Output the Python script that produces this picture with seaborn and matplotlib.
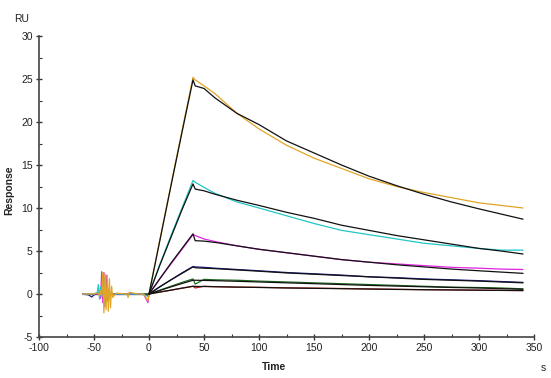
import numpy as np
import pandas as pd
import matplotlib
matplotlib.use("Agg")
import matplotlib.pyplot as plt
import seaborn as sns
from matplotlib.ticker import MultipleLocator

# time grids (s)
t_base = [-60, -55, -52, -50, -47, -46, -45, -44, -43, -42, -41, -40, -39, -38,
          -37, -36, -35, -34, -33, -30, -25, -20, -19, -18, -10, -5, -1]
t_assoc = [0, 10, 20, 30, 40]
t_diss = [42, 50, 60, 80, 100, 125, 150, 175, 200, 225, 250, 275, 300, 320, 340]

series = ["c1", "c2", "c3", "c4", "c5", "c6"]
colors = ["#E0A526", "#22C6C6", "#E024E0", "#1A1A8C", "#1E6B1E", "#C0201E"]

# measured responses (RU)
base_c1 = [0, 0, 0.05, 0, 0.1, 0, -0.2, 0.4, -0.3, 2.5, -2.2, 2.3, -1.8, 2.2,
           -2.0, 1.8, -1.6, 0.9, -0.4, 0.1, 0.05, 0, -0.4, 0.2, 0, 0, -0.8]
base_c2 = [0, 0, 0, 0, 0.2, 1.1, -0.6, 0.8, -0.3, 2.4, -1.2, 1.8, -0.8, 0.6,
           -0.3, 0.2, 0, 0, 0, 0, 0, 0, 0, 0, 0, 0, -0.3]
base_c3 = [0, 0, 0, 0, 0, 0, 0.3, -0.5, 2.6, -1.0, 2.5, -1.5, 2.2, -0.8,
           0.5, 0, 0, 0, 0, 0, 0, 0, 0, 0, 0, 0, -1.0]
base_c4 = [0, -0.1, -0.35, -0.1, 0, 0, 0.2, -0.3, 0.6, -0.5, 0.4, -0.2, 0.1, 0,
           0, 0, 0, 0, 0, 0, 0, 0, 0, 0, 0, 0, -0.2]
base_c5 = [0, 0, 0, 0, 0, 0, 0.1, -0.2, 0.3, -0.3, 0.2, -0.1, 0, 0,
           0, 0, 0, 0, 0, 0, 0, 0, 0, 0, 0, 0, 0]
base_c6 = [0, 0, 0, 0, 0, 0, 0.05, -0.1, 0.2, -0.2, 0.1, 0, 0, 0,
           0, 0, 0, 0, 0, 0, 0, 0, 0, 0, 0, 0, 0]

assoc_c1 = [0, 6.4, 12.7, 19.0, 25.2]
assoc_c2 = [0, 3.5, 6.8, 10.0, 13.2]
assoc_c3 = [0, 1.8, 3.5, 5.2, 6.9]
assoc_c4 = [0, 0.85, 1.65, 2.45, 3.2]
assoc_c5 = [0, 0.45, 0.9, 1.35, 1.75]
assoc_c6 = [0, 0.23, 0.45, 0.68, 0.9]

diss_c1 = [24.9, 24.2, 23.3, 21.0, 19.2, 17.3, 15.8, 14.6, 13.4, 12.5, 11.8, 11.2, 10.6, 10.3, 10.0]
diss_c2 = [13.0, 12.4, 11.7, 10.7, 10.0, 9.1, 8.2, 7.4, 6.9, 6.4, 5.9, 5.6, 5.3, 5.1, 5.1]
diss_c3 = [6.8, 6.4, 6.1, 5.6, 5.2, 4.8, 4.4, 4.0, 3.7, 3.5, 3.3, 3.1, 3.0, 2.9, 2.85]
diss_c4 = [3.15, 3.1, 3.0, 2.85, 2.7, 2.5, 2.35, 2.2, 2.0, 1.9, 1.75, 1.65, 1.55, 1.45, 1.35]
diss_c5 = [1.15, 1.7, 1.65, 1.6, 1.5, 1.4, 1.3, 1.2, 1.1, 1.0, 0.9, 0.8, 0.75, 0.7, 0.6]
diss_c6 = [0.7, 0.9, 0.85, 0.8, 0.78, 0.72, 0.68, 0.64, 0.6, 0.55, 0.5, 0.48, 0.45, 0.42, 0.4]

# 1:1 fitted curves (RU)
fit_assoc_c1 = [0, 6.3, 12.6, 18.8, 24.9]
fit_assoc_c2 = [0, 3.4, 6.6, 9.8, 12.8]
fit_assoc_c3 = [0, 1.8, 3.6, 5.3, 7.0]
fit_assoc_c4 = [0, 0.85, 1.65, 2.4, 3.15]
fit_assoc_c5 = [0, 0.42, 0.83, 1.22, 1.6]
fit_assoc_c6 = [0, 0.23, 0.45, 0.68, 0.9]

fit_diss_c1 = [24.2, 23.9, 22.8, 21.0, 19.7, 17.8, 16.4, 15.0, 13.7, 12.6, 11.6, 10.7, 9.9, 9.3, 8.7]
fit_diss_c2 = [12.2, 12.0, 11.6, 10.9, 10.3, 9.5, 8.8, 8.0, 7.4, 6.8, 6.3, 5.8, 5.3, 5.0, 4.65]
fit_diss_c3 = [6.2, 6.15, 6.0, 5.6, 5.2, 4.8, 4.4, 4.0, 3.7, 3.4, 3.15, 2.9, 2.7, 2.55, 2.4]
fit_diss_c4 = [3.05, 3.0, 2.95, 2.8, 2.65, 2.45, 2.3, 2.15, 2.0, 1.85, 1.7, 1.6, 1.5, 1.4, 1.3]
fit_diss_c5 = [1.6, 1.58, 1.55, 1.48, 1.4, 1.3, 1.2, 1.1, 1.0, 0.92, 0.84, 0.76, 0.7, 0.62, 0.55]
fit_diss_c6 = [0.88, 0.87, 0.85, 0.8, 0.76, 0.7, 0.66, 0.62, 0.57, 0.53, 0.5, 0.47, 0.44, 0.42, 0.4]

base = [base_c1, base_c2, base_c3, base_c4, base_c5, base_c6]
assoc = [assoc_c1, assoc_c2, assoc_c3, assoc_c4, assoc_c5, assoc_c6]
diss = [diss_c1, diss_c2, diss_c3, diss_c4, diss_c5, diss_c6]
fit_assoc = [fit_assoc_c1, fit_assoc_c2, fit_assoc_c3, fit_assoc_c4, fit_assoc_c5, fit_assoc_c6]
fit_diss = [fit_diss_c1, fit_diss_c2, fit_diss_c3, fit_diss_c4, fit_diss_c5, fit_diss_c6]

rows = []
fit_rows = []
t_all = t_base + t_assoc + t_diss
t_fit = t_assoc + t_diss
for i, name in enumerate(series):
    vals = base[i] + assoc[i] + diss[i]
    for t, v in zip(t_all, vals):
        rows.append({"time": t, "response": v, "conc": name})
    fvals = fit_assoc[i] + fit_diss[i]
    for t, v in zip(t_fit, fvals):
        fit_rows.append({"time": t, "response": v, "conc": name})
df = pd.DataFrame(rows)
df_fit = pd.DataFrame(fit_rows)

sns.set_style("ticks")
plt.rcParams["font.family"] = ["Liberation Sans", "DejaVu Sans"]
plt.rcParams["axes.unicode_minus"] = False

fig = plt.figure(figsize=(5.51, 3.78), dpi=100)
ax = fig.add_axes([39 / 551, 1 - 337 / 378, 495 / 551, 301 / 378])

# draw the highest concentration last so its spikes sit on top
order = series[::-1]
pal = dict(zip(series, colors))
sns.lineplot(data=df, x="time", y="response", hue="conc", hue_order=order,
             palette=pal, estimator=None, sort=False, legend=False,
             linewidth=0.9, ax=ax)
# baseline of the fit
ax.plot([-60, 0], [0, 0], color="#111122", lw=0.9, zorder=1)
sns.lineplot(data=df_fit, x="time", y="response", units="conc", color="#111111",
             estimator=None, sort=False, legend=False, linewidth=0.9, ax=ax)

ax.set_xlim(-100, 350)
ax.set_ylim(-5, 30)
ax.xaxis.set_major_locator(MultipleLocator(50))
ax.xaxis.set_minor_locator(MultipleLocator(25))
ax.yaxis.set_major_locator(MultipleLocator(5))
ax.yaxis.set_minor_locator(MultipleLocator(2.5))
ax.tick_params(which="major", direction="inout", length=5, width=1.0,
               color="#333333", labelsize=7.5, labelcolor="#222222", pad=2)
ax.tick_params(which="minor", direction="in", length=2.5, width=0.8, color="#333333")
for s in ["top", "right"]:
    ax.spines[s].set_visible(False)
for s in ["left", "bottom"]:
    ax.spines[s].set_color("#444444")
    ax.spines[s].set_linewidth(1.2)
ax.set_xlabel("")
ax.set_ylabel("")

fig.text(274 / 551, 1 - 367 / 378, "Time", ha="center", va="center",
         fontsize=7.5, fontweight="bold", color="#222222")
fig.text(9 / 551, 1 - 190 / 378, "Response", ha="center", va="center",
         rotation=90, fontsize=7.5, fontweight="bold", color="#222222")
fig.text(22 / 551, 1 - 19 / 378, "RU", ha="center", va="center",
         fontsize=7.5, color="#222222")
fig.text(543 / 551, 1 - 368 / 378, "s", ha="center", va="center",
         fontsize=7.5, color="#222222")

fig.savefig("out.png", dpi=100)
